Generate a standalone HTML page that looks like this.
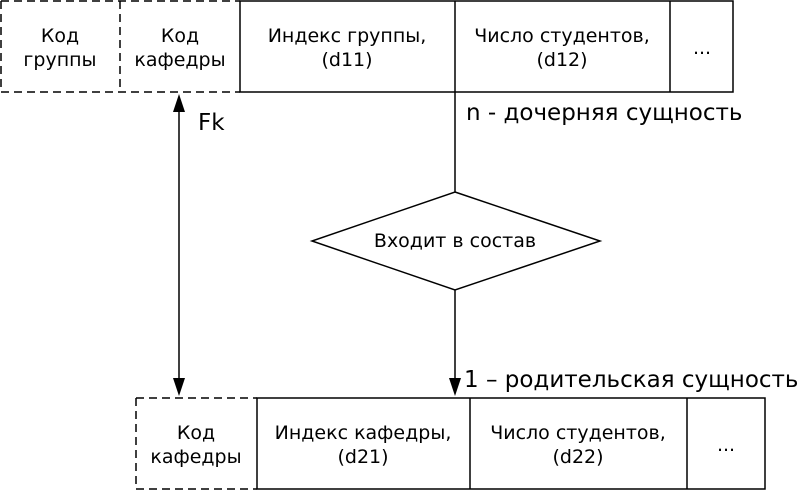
<!DOCTYPE html>
<html><head><meta charset="utf-8"><style>html,body{margin:0;padding:0;background:#fff;}svg{display:block;}</style></head><body>
<svg width="800" height="491" viewBox="0 0 800 491" xmlns="http://www.w3.org/2000/svg" font-family="DejaVu Sans, Liberation Sans, sans-serif">
<g stroke="#000" stroke-width="1.5" fill="none">
<rect x="240" y="1" width="493" height="91"/>
<line x1="455" y1="1" x2="455" y2="92"/>
<line x1="670" y1="1" x2="670" y2="92"/>
<g stroke-dasharray="8,5">
<line x1="1" y1="1" x2="240" y2="1"/><line x1="1" y1="92" x2="240" y2="92"/>
<line x1="1" y1="1" x2="1" y2="92"/><line x1="120" y1="1" x2="120" y2="92"/>
<line x1="136" y1="398" x2="257" y2="398"/><line x1="136" y1="489" x2="257" y2="489"/>
<line x1="136" y1="398" x2="136" y2="489"/>
</g>
<rect x="257" y="398" width="508" height="91"/>
<line x1="470" y1="398" x2="470" y2="489"/>
<line x1="687" y1="398" x2="687" y2="489"/>
<line x1="455" y1="92" x2="455" y2="192"/>
<polygon points="455,192 600,241 455,290 312,241"/>
<line x1="455" y1="290" x2="455" y2="380"/>
<line x1="179" y1="110" x2="179" y2="380"/>
</g>
<g fill="#000">
<polygon points="449,378 461,378 455,396"/>
<polygon points="173,378 185,378 179,396"/>
<polygon points="173,112 185,112 179,94"/>
</g>
<g text-anchor="middle" font-size="19" fill="#000">
<text x="60" y="42">Код</text><text x="60" y="66">группы</text>
<text x="180" y="42">Код</text><text x="180" y="66">кафедры</text>
<text x="347" y="42">Индекс группы,</text><text x="347" y="66">(d11)</text>
<text x="562" y="42">Число студентов,</text><text x="562" y="66">(d12)</text>
<text x="702" y="54">...</text>
<text x="455" y="247">Входит в состав</text>
<text x="196" y="439">Код</text><text x="196" y="463">кафедры</text>
<text x="363" y="439">Индекс кафедры,</text><text x="363" y="463">(d21)</text>
<text x="578" y="439">Число студентов,</text><text x="578" y="463">(d22)</text>
<text x="726" y="451">...</text>
</g>
<g font-size="23" fill="#000">
<text x="198" y="130">Fk</text>
<text x="466" y="120">n - дочерняя сущность</text>
<text x="464" y="387">1 – родительская сущность</text>
</g>
</svg>
</body></html>
